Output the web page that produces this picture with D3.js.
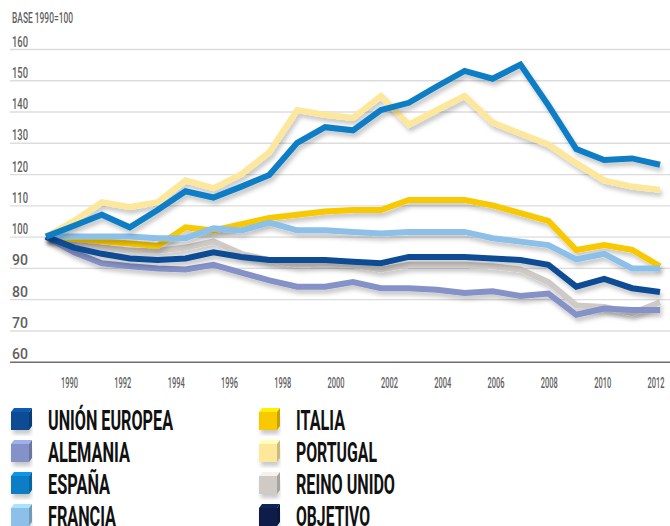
<!DOCTYPE html>
<html>
<head>
<meta charset="utf-8">
<script src="https://cdn.jsdelivr.net/npm/d3@7"></script>
<style>
  body { margin: 0; background: #fff; }
  svg { display: block; }
  text { font-family: Roboto, "DejaVu Sans Condensed", sans-serif; }
</style>
</head>
<body>
<div id="container"></div>
<script>
const years = d3.range(1990, 2013);
const yTicks = [60, 70, 80, 90, 100, 110, 120, 130, 140, 150, 160];
const xTicks = d3.range(1990, 2013, 2);

const ue = [100, 96.5, 94.5, 93, 92.5, 93, 95, 93.5, 92.5, 92.5, 92.5, 92, 91.5, 93.5, 93.5, 93.5, 93, 92.5, 91, 84, 86.5, 83.5, 82.3];
const alemania = [100, 95, 91.5, 90.5, 89.8, 89.5, 91, 88.5, 86, 84, 84, 85.5, 83.5, 83.5, 83, 82, 82.5, 81, 81.8, 75, 77, 76.5, 76.5];
const espana = [100, 103.5, 107, 103, 108.5, 114.5, 112.5, 116, 119.7, 130, 135, 134, 140.5, 142.8, 148, 153, 150.5, 155, 142, 128, 124.5, 125, 123];
const francia = [100, 100, 100, 100, 99.5, 99.5, 102.7, 102, 104.5, 102, 102, 101.5, 101, 101.5, 101.5, 101.5, 99.5, 98.4, 97.3, 92.7, 94.5, 89.8, 89.8];
const italia = [100, 99.3, 98.5, 97.8, 97, 103, 102, 104, 106, 107, 108, 108.5, 108.5, 111.7, 111.7, 111.7, 110, 107.5, 105, 95.7, 97.3, 95.8, 90.5];
const portugal = [100, 105, 111, 109.5, 111, 118, 115.5, 120, 127, 140.5, 139, 138, 145, 135.8, 140.5, 145, 136.5, 133, 129.5, 123.5, 118, 116, 115];
const reinoUnido = [100, 98, 96.5, 95.5, 95.5, 96.5, 98.5, 94.5, 92.5, 91, 91.5, 91, 89.5, 91, 91, 91, 90.5, 89.5, 85.5, 78, 77.5, 75.5, 79];
const objetivo = years.map(() => 80);

const seriesNames = ["UNIÓN EUROPEA", "ALEMANIA", "ESPAÑA", "FRANCIA", "ITALIA", "PORTUGAL", "REINO UNIDO", "OBJETIVO"];
const seriesColors = ["#0b4b94", "#8592c8", "#0a7dc5", "#8cc0e8", "#f8c800", "#fde79a", "#cfcac6", "#0b1f4a"];
const seriesValues = [ue, alemania, espana, francia, italia, portugal, reinoUnido, objetivo];
// drawing order, bottom to top
const drawOrder = [6, 1, 5, 4, 3, 0, 2, 7];

const width = 670, height = 526;

const svg = d3.select("#container").append("svg")
  .attr("width", width)
  .attr("height", height);

const defs = svg.append("defs");
const shadow = defs.append("filter").attr("id", "shadow")
  .attr("x", "-10%").attr("y", "-20%").attr("width", "130%").attr("height", "150%");
shadow.append("feDropShadow")
  .attr("dx", 2).attr("dy", 4).attr("stdDeviation", 2.2)
  .attr("flood-color", "#000").attr("flood-opacity", 0.22);

const x = d3.scaleLinear().domain([1990, 2012]).range([46, 660]);
const xLabel = d3.scaleLinear().domain([1990, 2012]).range([69, 655.5]);
const y = d3.scaleLinear().domain([60, 160]).range([361.7, 49]);

// y axis with gridlines
const yAxis = svg.append("g")
  .attr("transform", "translate(10,0)")
  .call(d3.axisLeft(y).tickValues(yTicks).tickSize(-660).tickFormat(d3.format("d")));
yAxis.select(".domain").remove();
yAxis.selectAll(".tick line")
  .attr("stroke", d => d === 60 ? "#6d6d6d" : "#dcdcdc")
  .attr("stroke-width", d => d === 60 ? 1.6 : 1.4);
yAxis.selectAll(".tick text")
  .attr("x", 2).attr("dy", -3)
  .attr("text-anchor", "start")
  .attr("fill", "#5f5f5f")
  .attr("font-size", 14.5)
  .attr("font-weight", 500)
  .attr("textLength", 16).attr("lengthAdjust", "spacingAndGlyphs");

svg.append("text")
  .attr("x", 12).attr("y", 23)
  .attr("fill", "#5f5f5f")
  .attr("font-size", 14)
  .attr("font-weight", 500)
  .attr("textLength", 61).attr("lengthAdjust", "spacingAndGlyphs")
  .text("BASE 1990=100");

// x axis labels
const xAxis = svg.append("g")
  .attr("transform", "translate(0,375)")
  .call(d3.axisBottom(xLabel).tickValues(xTicks).tickSize(0).tickFormat(d3.format("d")));
xAxis.select(".domain").remove();
xAxis.selectAll(".tick text")
  .attr("fill", "#5f5f5f")
  .attr("font-size", 14.5)
  .attr("font-weight", 500)
  .attr("dy", "0.71em")
  .attr("textLength", 17).attr("lengthAdjust", "spacingAndGlyphs");

// lines
const line = d3.line()
  .x((d, i) => x(years[i]))
  .y(d => y(d));

svg.append("g")
  .selectAll("path")
  .data(drawOrder)
  .join("path")
  .attr("d", i => line(seriesValues[i]))
  .attr("fill", "none")
  .attr("stroke", i => seriesColors[i])
  .attr("stroke-width", i => i === 7 ? 8 : 6)
  .attr("stroke-linejoin", "miter")
  .attr("stroke-linecap", "butt")
  .attr("filter", "url(#shadow)");

// legend
const legendWidths = [125, 82, 62, 68, 49, 81, 99, 74];
const legend = svg.append("g");
const items = legend.selectAll("g")
  .data(seriesNames)
  .join("g")
  .attr("transform", (d, i) => `translate(${i < 4 ? 11 : 259},${420 + (i % 4) * 32})`);

items.append("rect")
  .attr("x", 0).attr("y", -8).attr("width", 18).attr("height", 18)
  .attr("fill", (d, i) => seriesColors[i])
  .attr("filter", "url(#shadow)");
items.append("path")
  .attr("d", "M0,-8 L3,-12 L21,-12 L18,-8 Z")
  .attr("fill", (d, i) => d3.color(seriesColors[i]).brighter(0.5));
items.append("path")
  .attr("d", "M18,-8 L21,-12 L21,6 L18,10 Z")
  .attr("fill", (d, i) => d3.color(seriesColors[i]).darker(0.6));

items.append("text")
  .attr("x", 37).attr("y", 10)
  .attr("font-size", 28)
  .attr("font-weight", "bold")
  .attr("fill", "#111")
  .attr("textLength", (d, i) => legendWidths[i])
  .attr("lengthAdjust", "spacingAndGlyphs")
  .text(d => d);
</script>
</body>
</html>
